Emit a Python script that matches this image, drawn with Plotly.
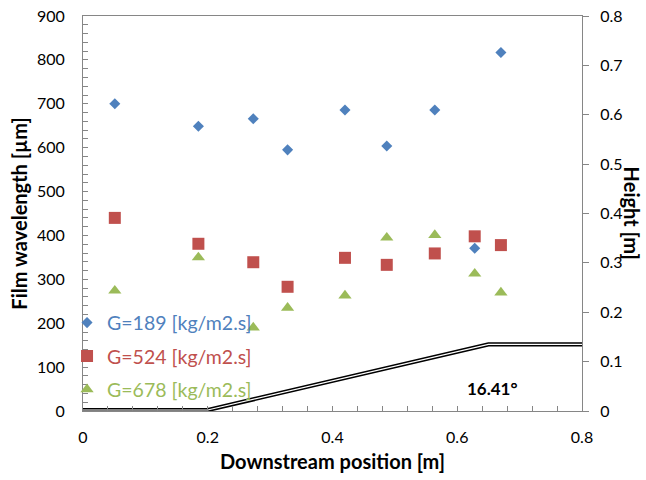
import plotly.graph_objects as go

# Data
pos_189 = [0.051, 0.185, 0.273, 0.328, 0.420, 0.487, 0.564, 0.628, 0.670]
wl_189 = [700, 649, 666, 595, 686, 604, 686, 371, 817]

pos_524 = [0.051, 0.185, 0.273, 0.328, 0.420, 0.487, 0.564, 0.628, 0.670]
wl_524 = [440, 381, 339, 283, 349, 333, 359, 398, 378]

pos_678 = [0.051, 0.185, 0.273, 0.328, 0.420, 0.487, 0.564, 0.628, 0.670]
wl_678 = [274, 350, 190, 235, 263, 395, 401, 313, 270]

ramp_x = [0.0, 0.2, 0.65, 0.8]
ramp_h = [0.002, 0.002, 0.135, 0.135]

angle_label = "16.41°"

BLUE = "#4F81BD"
RED = "#C0504D"
GREEN = "#9BBB59"
AX = "#868686"
FONT = "Lato"

fig = go.Figure()

# ramp (double line: black outer, white inner)
fig.add_trace(go.Scatter(x=ramp_x, y=ramp_h, mode="lines", yaxis="y2",
                         line=dict(color="black", width=4.2), showlegend=False,
                         hoverinfo="skip"))
fig.add_trace(go.Scatter(x=ramp_x, y=ramp_h, mode="lines", yaxis="y2",
                         line=dict(color="white", width=1.2), showlegend=False,
                         hoverinfo="skip"))

fig.add_trace(go.Scatter(x=pos_189, y=wl_189, mode="markers",
                         name=f"<span style='color:{BLUE}'>G=189 [kg/m2.s]</span>",
                         legendgroup="a",
                         marker=dict(symbol="diamond", size=8.5, color=BLUE)))
fig.add_trace(go.Scatter(x=pos_524, y=wl_524, mode="markers",
                         name=f"<span style='color:{RED}'>G=524 [kg/m2.s]</span>",
                         legendgroup="b",
                         marker=dict(symbol="square", size=12, color=RED)))
fig.add_trace(go.Scatter(x=pos_678, y=wl_678, mode="markers",
                         name=f"<span style='color:{GREEN}'>G=678 [kg/m2.s]</span>",
                         legendgroup="c",
                         marker=dict(symbol="triangle-up", size=11.5, color=GREEN)))

fig.add_annotation(x=0.657, y=0.046, xref="x", yref="y2", text=f"<b>{angle_label}</b>",
                   showarrow=False, font=dict(family=FONT, size=17, color="black"))

fig.add_annotation(x=1.102, y=0.5, xref="paper", yref="paper", text="<b>Height [m]</b>",
                   textangle=90, showarrow=False, xanchor="center", yanchor="middle",
                   font=dict(family=FONT, size=20, color="black"))

fig.update_layout(
    width=646, height=480,
    margin=dict(l=83, r=64, t=16, b=69, autoexpand=False),
    paper_bgcolor="white", plot_bgcolor="white",
    font=dict(family=FONT, size=16, color="black"),
    showlegend=True,
    legend=dict(x=-0.032, y=0.004, xanchor="left", yanchor="bottom",
                bgcolor="rgba(0,0,0,0)", font=dict(family=FONT, size=19.5),
                tracegroupgap=5, itemwidth=30),
    xaxis=dict(range=[0, 0.8], dtick=0.2, tick0=0, ticks="inside", ticklen=5,
               tickcolor=AX, showline=True, linecolor=AX, linewidth=1, mirror=True,
               showgrid=False, zeroline=False, ticklabelstandoff=12, automargin=False,
               ticklabeloverflow="allow",
               minor=dict(dtick=0.04, ticks="inside", ticklen=5, tickcolor=AX),
               title=dict(text="<b>Downstream position [m]</b>",
                          font=dict(family=FONT, size=20), standoff=9)),
    yaxis=dict(range=[0, 900], dtick=100, ticks="inside", ticklen=5, tickcolor=AX,
               showline=True, linecolor=AX, linewidth=1, showgrid=False,
               zeroline=False, ticklabelstandoff=14, automargin=False,
               ticklabeloverflow="allow",
               minor=dict(dtick=20, ticks="inside", ticklen=5, tickcolor=AX),
               title=dict(text="<b>Film wavelength [µm]</b>",
                          font=dict(family=FONT, size=20), standoff=3)),
    yaxis2=dict(range=[0, 0.8], dtick=0.1, overlaying="y", side="right",
                ticks="outside", ticklen=6, tickcolor=AX, showline=True,
                linecolor=AX, linewidth=1, showgrid=False, zeroline=False,
                ticklabelstandoff=8, automargin=False, ticklabeloverflow="allow"),
)

fig.write_html("out.html", config={"displayModeBar": False},
               post_script="document.body.style.margin='0';")
